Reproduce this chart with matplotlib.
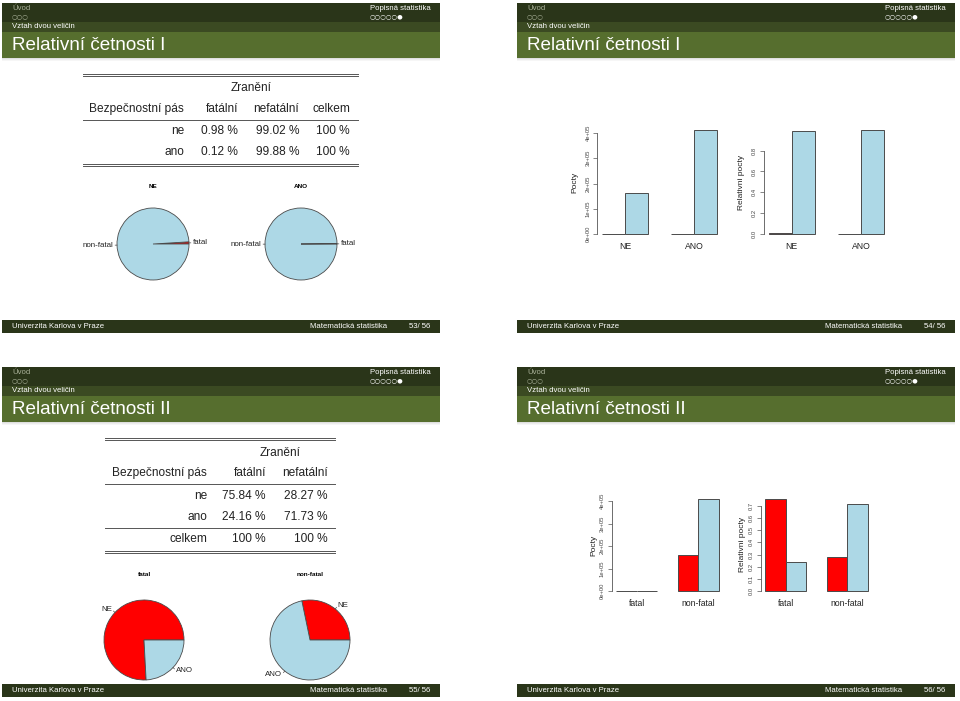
import matplotlib
matplotlib.use('Agg')
import matplotlib.pyplot as plt
import numpy as np
from matplotlib.patches import Rectangle

plt.rcParams['font.family'] = ['Liberation Sans', 'DejaVu Sans']

W, H = 960, 701

# ---------------- data ----------------
belt = ['NE', 'ANO']                 # seat belt: no / yes
belt_rows = ['ne', 'ano']
injury = ['fatal', 'non-fatal']
injury_cz = ['fatální', 'nefatální']
counts_ne = [1601, 162527]           # fatal, non-fatal
counts_ano = [510, 412368]
pages = ['53/ 56', '54/ 56', '55/ 56', '56/ 56']
titles = ['Relativní četnosti I', 'Relativní četnosti I',
          'Relativní četnosti II', 'Relativní četnosti II']
count_ticks = [0, 100000, 200000, 300000, 400000]
count_ticklabels = ['0e+00', '1e+05', '2e+05', '3e+05', '4e+05']
rel_ticks_1 = [0.0, 0.2, 0.4, 0.6, 0.8]
rel_ticks_2 = [0.0, 0.1, 0.2, 0.3, 0.4, 0.5, 0.6, 0.7]

counts = np.array([counts_ne, counts_ano], dtype=float)   # rows belt, cols injury
row_prop = counts / counts.sum(axis=1, keepdims=True)
col_prop = counts / counts.sum(axis=0, keepdims=True)

RED = '#FF0000'
BLUE = '#ADD8E6'
EDGE = '#4a4a4a'
C_TOP = '#2a3519'
C_MID = '#3b4a22'
C_TITLE = '#566e2e'
C_FOOT = '#2a3519'

fig = plt.figure(figsize=(W / 100, H / 100), dpi=100)
bg = fig.add_axes([0, 0, 1, 1])
bg.set_xlim(0, W)
bg.set_ylim(H, 0)
bg.axis('off')


def px_axes(x0, y0, x1, y1):
    return fig.add_axes([x0 / W, 1 - y1 / H, (x1 - x0) / W, (y1 - y0) / H])


def slide(x0, y0, page, title):
    w = 438
    bg.add_patch(Rectangle((x0, y0), w, 19, color=C_TOP, lw=0))
    bg.add_patch(Rectangle((x0, y0 + 19), w, 10, color=C_MID, lw=0))
    bg.add_patch(Rectangle((x0, y0 + 29), w, 26, color=C_TITLE, lw=0))
    for i, a in enumerate([0.25, 0.15, 0.07]):
        bg.add_patch(Rectangle((x0, y0 + 55 + i), w, 1, color='#808080', alpha=a, lw=0))
    bg.text(x0 + 10, y0 + 6, 'Úvod', color='#aab29a', fontsize=5.6, va='center')
    bg.text(x0 + 10, y0 + 13.5, '○○○', color='#aab29a', fontsize=4.6, va='center',
            family=['DejaVu Sans'])
    bg.text(x0 + 368, y0 + 6, 'Popisná statistika', color='white', fontsize=5.6, va='center')
    bg.text(x0 + 368, y0 + 13.5, '○○○○○●', color='white', fontsize=4.6, va='center',
            family=['DejaVu Sans'])
    bg.text(x0 + 10, y0 + 24, 'Vztah dvou veličin', color='white', fontsize=5.6, va='center')
    bg.text(x0 + 10, y0 + 43, title, color='white', fontsize=13.6, va='center')
    bg.add_patch(Rectangle((x0, y0 + 317), w, 13, color=C_FOOT, lw=0))
    bg.text(x0 + 10, y0 + 324, 'Univerzita Karlova v Praze', color='white', fontsize=5.6, va='center')
    bg.text(x0 + 385, y0 + 324, 'Matematická statistika', color='white', fontsize=5.6,
            va='center', ha='right')
    bg.text(x0 + 428, y0 + 324, page, color='white', fontsize=5.6, va='center', ha='right')


def rule(x0, x1, y, double=False):
    if double:
        bg.plot([x0, x1], [y - 1.2, y - 1.2], color='#555555', lw=0.7)
        bg.plot([x0, x1], [y + 1.2, y + 1.2], color='#555555', lw=0.7)
    else:
        bg.plot([x0, x1], [y, y], color='#555555', lw=0.7)


def pie(cx, cy, r, vals, labels, cols, title, ty):
    k = 1.9
    R = r * k
    ax = px_axes(cx - R, cy - R, cx + R, cy + R)
    ax.pie(vals, colors=cols, startangle=0, counterclock=True, radius=1,
           labels=labels, labeldistance=1.1,
           wedgeprops=dict(edgecolor=EDGE, linewidth=0.6),
           textprops=dict(fontsize=5.7, color='#222222'))
    frac = np.array(vals, dtype=float) / np.sum(vals)
    mids = (np.cumsum(frac) - frac / 2) * 2 * np.pi
    for t in mids:
        ax.plot([np.cos(t), 1.05 * np.cos(t)], [np.sin(t), 1.05 * np.sin(t)],
                color=EDGE, lw=0.5)
    ax.set_xlim(-k, k)
    ax.set_ylim(-k, k)
    ax.set_aspect('equal')
    ax.set_axis_off()
    bg.text(cx, ty, title, fontsize=4.6, fontweight='bold', ha='center', va='center')


def barchart(box, groups, heights, ticks, ticklabels, ylabel, ylabel_pad):
    x0, y0, x1, y1 = box
    ax = px_axes(x0, y0, x1, y1)
    heights = np.asarray(heights)
    n, k = heights.shape
    cols = [RED, BLUE]
    centers = []
    for g in range(n):
        for j in range(k):
            left = 1 + g * (k + 1) + j
            ax.bar(left, heights[g, j], width=1, align='edge', color=cols[j],
                   edgecolor=EDGE, linewidth=0.7)
        centers.append(1 + g * (k + 1) + k / 2)
    right = 1 + n * (k + 1) - 1
    span = right - 1
    ax.set_xlim(1 - 0.04 * span, right + 0.04 * span)
    top = heights.max()
    ax.set_ylim(-0.04 * top, 1.04 * top)
    for s in ['top', 'right', 'bottom']:
        ax.spines[s].set_visible(False)
    ax.spines['left'].set_bounds(ticks[0], ticks[-1])
    ax.spines['left'].set_color('#555555')
    ax.spines['left'].set_linewidth(0.6)
    ax.set_yticks(ticks)
    ax.set_yticklabels(ticklabels, rotation=90, va='center', fontsize=4.2, color='#444444')
    ax.tick_params(axis='y', length=3, width=0.5, color='#555555', pad=2)
    ax.set_xticks(centers)
    ax.set_xticklabels(groups, fontsize=6.2, color='#222222')
    ax.tick_params(axis='x', length=0, pad=3)
    ax.set_ylabel(ylabel, fontsize=6.0, color='#222222', labelpad=ylabel_pad)
    ax.patch.set_alpha(0)
    return ax


# ---------- slides ----------
slide(2, 3, pages[0], titles[0])
slide(517, 3, pages[1], titles[1])
slide(2, 367, pages[2], titles[2])
slide(517, 367, pages[3], titles[3])

# ---------- slide 53: table ----------
FS = 8.6
TC = '#222222'
rule(83, 358, 75, double=True)
bg.text(251, 88, 'Zranění', fontsize=FS, ha='center', va='center', color=TC)
bg.text(184, 109, 'Bezpečnostní pás', fontsize=FS, ha='right', va='center', color=TC)
bg.text(238, 109, injury_cz[0], fontsize=FS, ha='right', va='center', color=TC)
bg.text(299, 109, injury_cz[1], fontsize=FS, ha='right', va='center', color=TC)
bg.text(350, 109, 'celkem', fontsize=FS, ha='right', va='center', color=TC)
rule(83, 358, 120)
for i, yy in enumerate([131, 152]):
    bg.text(184, yy, belt_rows[i], fontsize=FS, ha='right', va='center', color=TC)
    bg.text(238, yy, f'{100 * row_prop[i, 0]:.2f} %', fontsize=FS, ha='right', va='center', color=TC)
    bg.text(299, yy, f'{100 * row_prop[i, 1]:.2f} %', fontsize=FS, ha='right', va='center', color=TC)
    bg.text(350, yy, f'{100 * row_prop[i].sum():.0f} %', fontsize=FS, ha='right', va='center', color=TC)
rule(83, 358, 165, double=True)

pie(153, 244, 36, counts[0], injury, [RED, BLUE], belt[0], 187)
pie(301, 244, 36, counts[1], injury, [RED, BLUE], belt[1], 187)

# ---------- slide 54 ----------
barchart((597.4, 125.7, 721.6, 238.2), belt, counts, count_ticks, count_ticklabels, 'Pocty', 5)
barchart((763.9, 125.7, 888.6, 238.2), belt, row_prop, rel_ticks_1,
         [f'{t:.1f}' for t in rel_ticks_1], 'Relativni pocty', 5)

# ---------- slide 55: table ----------
rule(105, 335, 439, double=True)
bg.text(280, 453, 'Zranění', fontsize=FS, ha='center', va='center', color=TC)
bg.text(207, 473, 'Bezpečnostní pás', fontsize=FS, ha='right', va='center', color=TC)
bg.text(266, 473, injury_cz[0], fontsize=FS, ha='right', va='center', color=TC)
bg.text(328, 473, injury_cz[1], fontsize=FS, ha='right', va='center', color=TC)
rule(105, 335, 484)
for i, yy in enumerate([496, 517]):
    bg.text(207, yy, belt_rows[i], fontsize=FS, ha='right', va='center', color=TC)
    bg.text(266, yy, f'{100 * col_prop[i, 0]:.2f} %', fontsize=FS, ha='right', va='center', color=TC)
    bg.text(328, yy, f'{100 * col_prop[i, 1]:.2f} %', fontsize=FS, ha='right', va='center', color=TC)
rule(105, 335, 528)
bg.text(207, 539, 'celkem', fontsize=FS, ha='right', va='center', color=TC)
bg.text(266, 539, f'{100 * col_prop[:, 0].sum():.0f} %', fontsize=FS, ha='right', va='center', color=TC)
bg.text(328, 539, f'{100 * col_prop[:, 1].sum():.0f} %', fontsize=FS, ha='right', va='center', color=TC)
rule(105, 335, 552, double=True)

pie(144, 640, 40, counts[:, 0], belt, [RED, BLUE], injury[0], 574)
pie(310, 640, 40, counts[:, 1], belt, [RED, BLUE], injury[1], 574)

# ---------- slide 56 ----------
barchart((611.9, 494.8, 723.1, 595.0), injury, counts.T, count_ticks, count_ticklabels, 'Pocty', 2)
barchart((760.9, 494.8, 872.1, 595.0), injury, col_prop.T, rel_ticks_2,
         [f'{t:.1f}' for t in rel_ticks_2], 'Relativni pocty', 2)

fig.savefig('out.png', dpi=100)
